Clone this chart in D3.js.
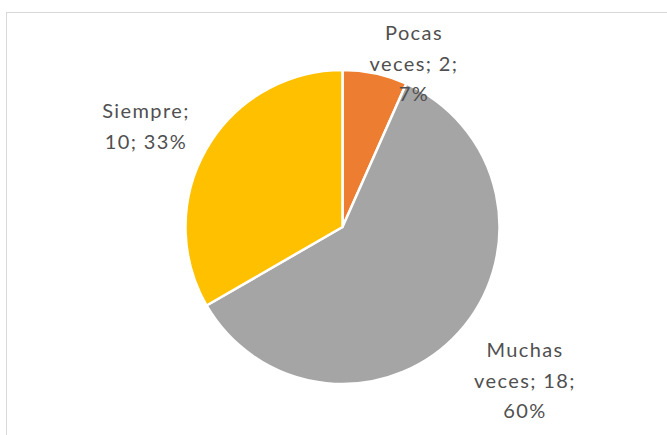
<!DOCTYPE html>
<html><head><meta charset="utf-8">
<script src="https://cdn.jsdelivr.net/npm/d3@7"></script>
<style>html,body{margin:0;padding:0;background:#fff;overflow:hidden}</style>
</head><body>
<svg id="chart" width="667" height="435"></svg>
<script>
const categories = ["Pocas veces", "Muchas veces", "Siempre"];
const values = [2, 18, 10];
const percents = ["7%", "60%", "33%"];
const colors = ["#ED7D31", "#A5A5A5", "#FFC000"];
const labelLines = [["Pocas", "veces; 2;", "7%"], ["Muchas", "veces; 18;", "60%"], ["Siempre;", "10; 33%"]];
const labelPos = [[414, 40], [525, 357], [146, 118]];

const svg = d3.select("#chart");
svg.append("rect").attr("x", 6.5).attr("y", 12.5).attr("width", 700).attr("height", 450)
  .attr("fill", "#fff").attr("stroke", "#d9d9d9").attr("stroke-width", 1);

const cx = 342.5, cy = 227, r = 157;
const pie = d3.pie().sort(null).value(d => d)(values);
const arc = d3.arc().innerRadius(0).outerRadius(r);
const g = svg.append("g").attr("transform", `translate(${cx},${cy})`);
g.selectAll("path").data(pie).join("path")
  .attr("d", arc).attr("fill", (d, i) => colors[i])
  .attr("stroke", "#fff").attr("stroke-width", 2.5).attr("stroke-linejoin", "round");

labelLines.forEach((lines, i) => {
  const t = svg.append("text").attr("text-anchor", "middle")
    .attr("font-family", "Lato, 'Open Sans', sans-serif").attr("font-size", 20)
    .attr("letter-spacing", 1.4)
    .attr("fill", "#505050");
  lines.forEach((ln, j) => {
    t.append("tspan").attr("x", labelPos[i][0]).attr("y", labelPos[i][1] + j * 30.5).text(ln);
  });
});
</script>
</body></html>
